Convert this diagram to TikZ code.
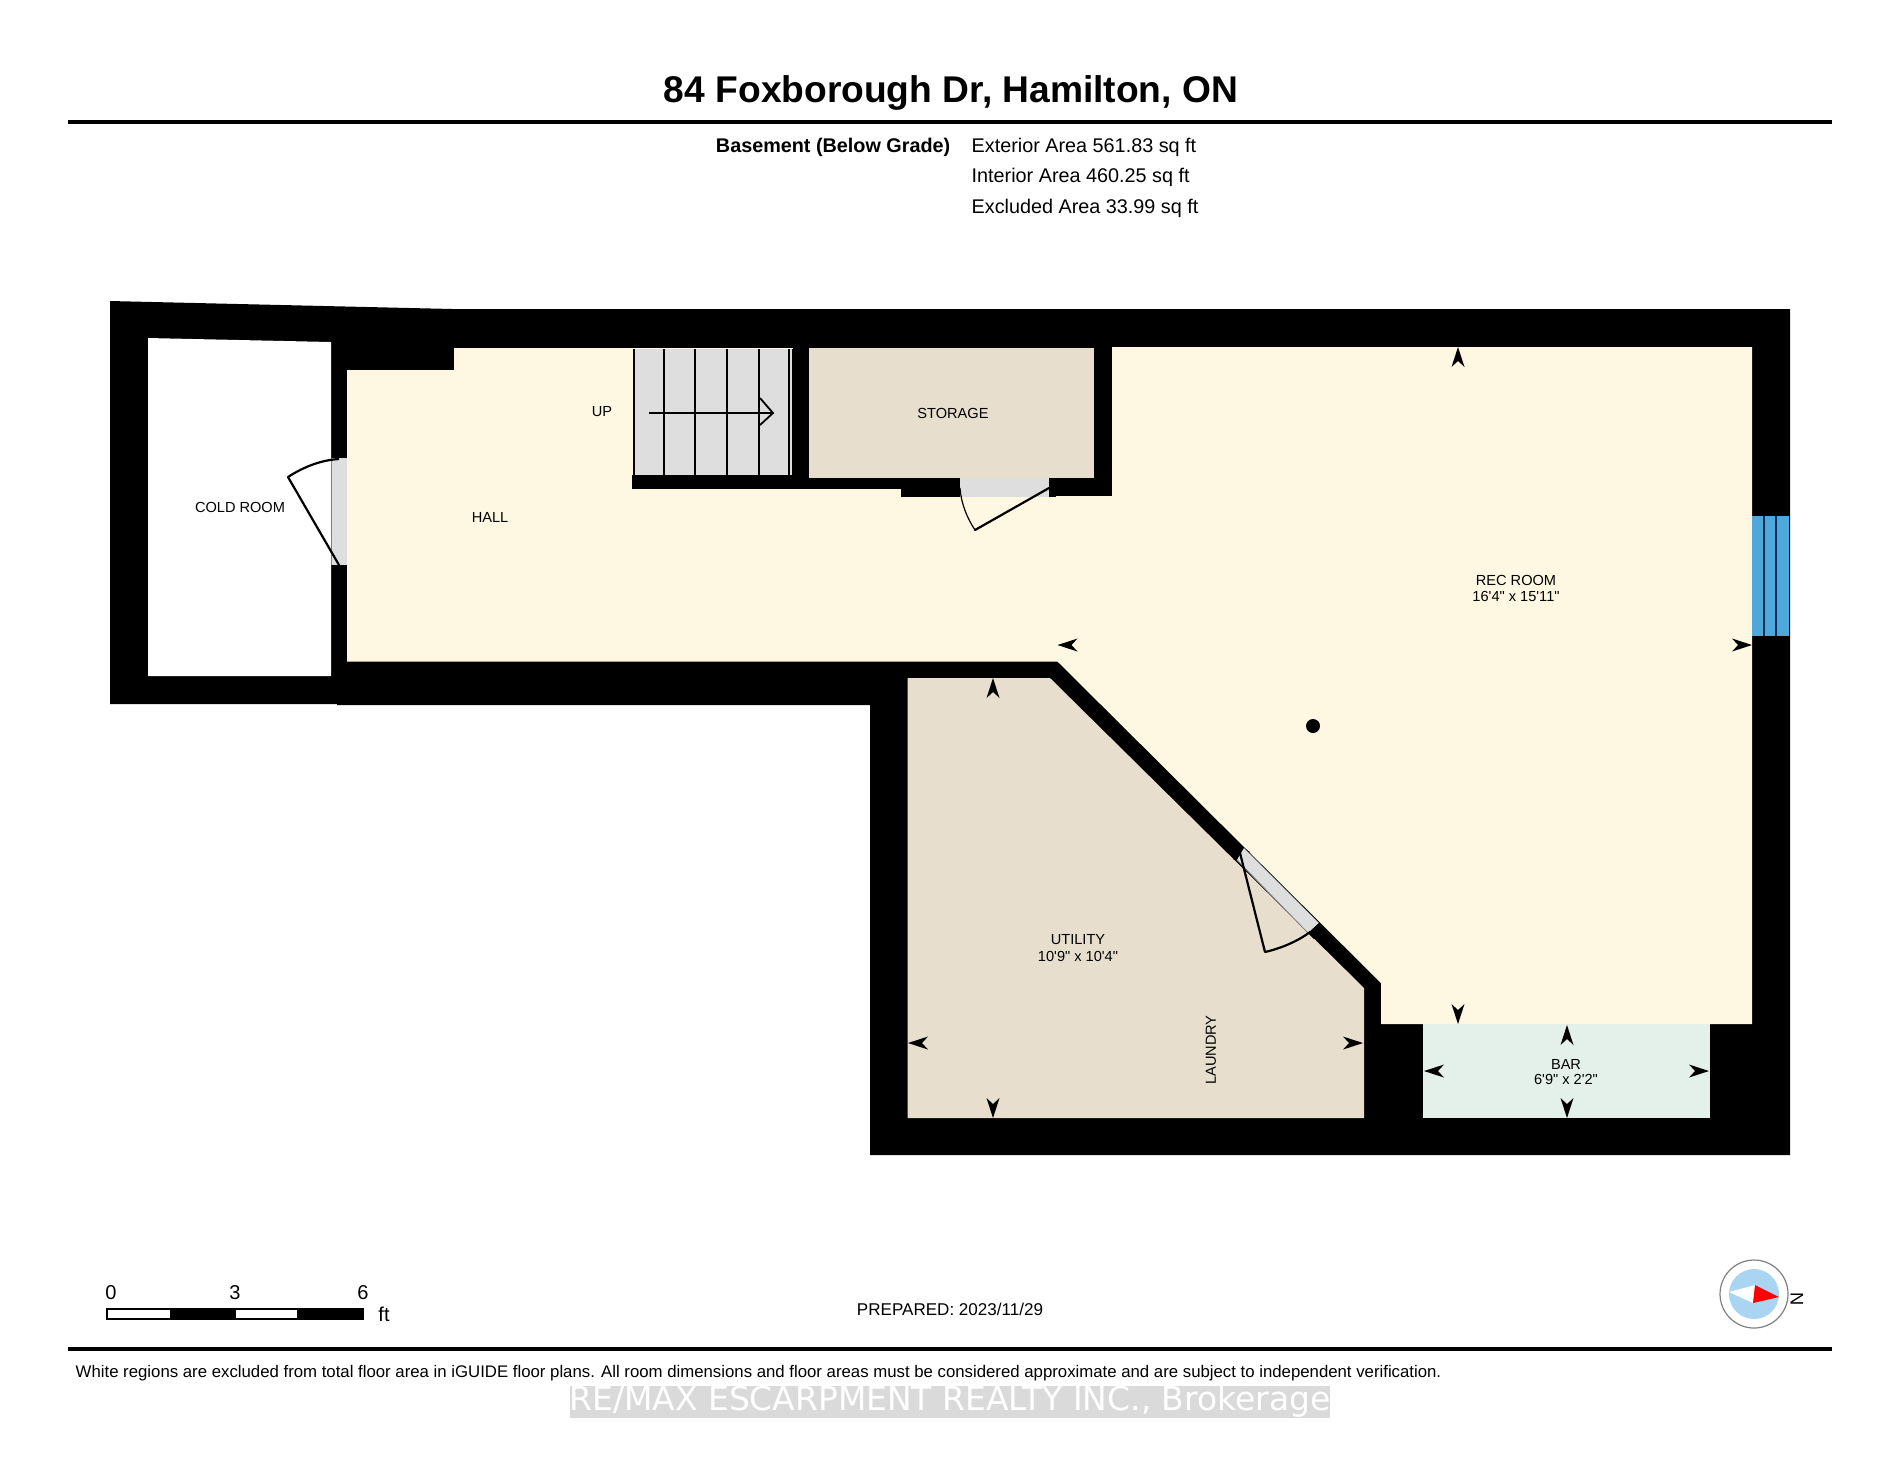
\documentclass[tikz,border=0pt]{standalone}
\usepackage{fontspec}
\setmainfont[Ligatures=TeXOff]{Liberation Sans}
\newfontfamily\wmfont{DejaVu Sans}
\definecolor{hallc}{HTML}{FEF7E2}
\definecolor{utilc}{HTML}{E7DECE}
\definecolor{barc}{HTML}{E4F1EB}
\definecolor{doorc}{HTML}{DEDEDE}
\definecolor{winc}{HTML}{4FA8DC}
\definecolor{winl}{HTML}{0A2E55}
\definecolor{compc}{HTML}{AAD5F2}
\definecolor{wmc}{HTML}{DADADA}
\newcommand{\dartmark}[3]{\fill[black,shift={(#1,#2)},rotate=#3] (0,0) -- (-20,6.5) -- (-14,0) -- (-20,-6.5) -- cycle;}
\tikzset{
  px/.style={line width=#1*0.2845pt},
  roomlabel/.style={font=\fontsize{4.15}{5}\selectfont,inner sep=0pt,text=black},
  infolabel/.style={font=\fontsize{5.63}{6}\selectfont,inner sep=0pt,anchor=base west},
  scalelabel/.style={font=\fontsize{5.7}{6}\selectfont,inner sep=0pt},
  rulerline/.style={px=3.2,black},
  leaf/.style={px=2.2,black,line cap=round},
  thinarc/.style={px=1.2,black},
  tread/.style={px=1.8,black},
}
\begin{document}
\begin{tikzpicture}[x=0.01cm,y=-0.01cm]
\useasboundingbox (0,0) rectangle (1900,1468);
\fill[white] (0,0) rectangle (1900,1468);

% header
\node[font=\fontsize{10.57}{12}\selectfont\bfseries,inner sep=0pt] (title) at (951,93) {84 Foxborough Dr, Hamilton, ON};
\draw[rulerline] (68,122) -- (1832,122);
\node[font=\fontsize{5.63}{6}\selectfont\bfseries,inner sep=0pt,anchor=base east] (lvl) at (951,152) {Basement (Below Grade)};
\node[infolabel] (ext) at (971,152) {Exterior Area 561.83 sq ft};
\node[infolabel] (int) at (971,182) {Interior Area 460.25 sq ft};
\node[infolabel] (exc) at (971,213) {Excluded Area 33.99 sq ft};

% walls
\fill[black] (110,301) -- (453,309) -- (1790,309) -- (1790,1155) -- (870,1155) -- (870,705) -- (337,705) -- (337,704) -- (110,704) -- cycle;
% cold room
\fill[white] (148,338) -- (331,342) -- (331,676) -- (148,676) -- cycle;
% hall + rec room
\fill[hallc] (347,370) -- (454,370) -- (454,348) -- (1112,348) -- (1112,347) -- (1752,347) -- (1752,1024) -- (1381,1024) -- (1381,983) -- (1057.5,661.5) -- (347,661.5) -- cycle;
% utility
\fill[utilc] (907.5,678) -- (1050,678) -- (1364,988) -- (1364,1118) -- (907.5,1118) -- cycle;
% bar
\fill[barc] (1423,1024) rectangle (1709.5,1118);
% storage walls and room
\fill[black] (793,348) rectangle (1112,478);
\fill[black] (632,475) rectangle (802,489);
\fill[black] (802,478) rectangle (901,489);
\fill[black] (901,478) rectangle (960,497);
\fill[black] (1049,477) rectangle (1056,497);
\fill[black] (1056,478) rectangle (1112,496);
\fill[utilc] (809,348) rectangle (1094,478);
% stairs
\fill[doorc] (633,349) rectangle (792,475);
\foreach \tx in {634,664,695,727,759,789,792.5}{\draw[tread] (\tx,349) -- (\tx,475);}
\draw[px=1.8] (649,413) -- (773,413);
\draw[px=1.8] (760,398) -- (773,413) -- (760,425);

% doors
\fill[doorc] (331,458) rectangle (347,565);
\draw[gray,px=0.8] (331,458) -- (331,565);
\draw[leaf] (339,565) -- (288,477);
\draw[leaf,line cap=butt] (288,477) .. controls (305,466) and (322,460) .. (339,459);
\fill[doorc] (960,478) rectangle (1049,497);
\draw[leaf] (1049,488) -- (975,530);
\draw[thinarc] (975,530) .. controls (967,518) and (961,503) .. (960,488);
\fill[black] (1244,848) -- (1233,859) -- (1239,862) -- (1250,852) -- cycle;
\fill[doorc] (1244,848) -- (1319,923) -- (1308,933) -- (1237,860) -- cycle;
\draw[gray,px=0.8] (1237,860) -- (1308,933);
\fill[black] (1319,923) -- (1308,933) -- (1314,939) -- (1325,929) -- cycle;
\draw[leaf] (1240,853) -- (1265,952);
\draw[leaf,line cap=butt] (1265,952) .. controls (1282,948) and (1298,941) .. (1310,932);

% window
\fill[winc] (1752,516) rectangle (1789,636);
\draw[winl,px=1.8] (1764,516) -- (1764,636);
\draw[winl,px=1.8] (1776,516) -- (1776,636);

% column
\fill[black] (1313,726) circle (7);

% dimension marks
\dartmark{993}{678}{90}
\dartmark{993}{1118}{-90}
\dartmark{908}{1043}{180}
\dartmark{1363}{1043}{0}
\dartmark{1567}{1025}{90}
\dartmark{1567}{1118}{-90}
\dartmark{1424}{1071}{180}
\dartmark{1709}{1071}{0}
\dartmark{1458}{1024}{-90}
\dartmark{1458}{347}{90}
\dartmark{1057.5}{645}{180}
\dartmark{1752}{645}{0}

% room labels
\node[roomlabel] (cold) at (240,507) {COLD ROOM};
\node[roomlabel] (hall) at (490,517) {HALL};
\node[roomlabel] (up) at (602,412) {UP};
\node[roomlabel] (stor) at (953,413) {STORAGE};
\node[roomlabel] (rec) at (1516,580) {REC ROOM};
\node[roomlabel] (recd) at (1516,596) {16'4" x 15'11"};
\node[roomlabel] (util) at (1078,940) {UTILITY};
\node[roomlabel] (utild) at (1078,956) {10'9" x 10'4"};
\node[roomlabel,rotate=90] (laun) at (1211,1050) {LAUNDRY};
\node[roomlabel] (bar) at (1566,1064) {BAR};
\node[roomlabel] (bard) at (1566,1079) {6'9" x 2'2"};

% scale bar
\draw[black,px=1.2,fill=white] (107,1309) rectangle (363,1319);
\fill[black] (170,1309) rectangle (236,1319);
\fill[black] (297,1309) rectangle (363,1319);
\node[scalelabel] (s0) at (111,1293) {0};
\node[scalelabel] (s3) at (235,1293) {3};
\node[scalelabel] (s6) at (363,1293) {6};
\node[scalelabel] (sft) at (384,1314) {ft};

\node[font=\fontsize{4.85}{6}\selectfont,inner sep=0pt] (prep) at (950,1309) {PREPARED: 2023/11/29};

% compass
\draw[gray,px=1.2,fill=white] (1754,1294) circle (34);
\fill[compc] (1754,1294) circle (25);
\fill[white] (1729,1292) -- (1755,1285) -- (1753,1303) -- cycle;
\fill[red] (1755,1285) -- (1779,1297) -- (1753,1303) -- cycle;
\node[font=\fontsize{5.2}{6}\selectfont,inner sep=0pt,rotate=-90] (north) at (1797,1299) {N};

% footer
\draw[rulerline] (68,1349) -- (1832,1349);
\node[font=\fontsize{4.77}{6}\selectfont,inner sep=0pt,anchor=west] (foot) at (75,1373) {White regions are excluded from total floor area in iGUIDE floor plans. All room dimensions and floor areas must be considered approximate and are subject to independent verification.};
\fill[wmc] (570,1386) rectangle (1330,1418);
\node[font=\wmfont\fontsize{9.36}{10}\selectfont,text=white,inner sep=0pt] (wm) at (950,1401) {RE/MAX ESCARPMENT REALTY INC., Brokerage};
\end{tikzpicture}
\end{document}
